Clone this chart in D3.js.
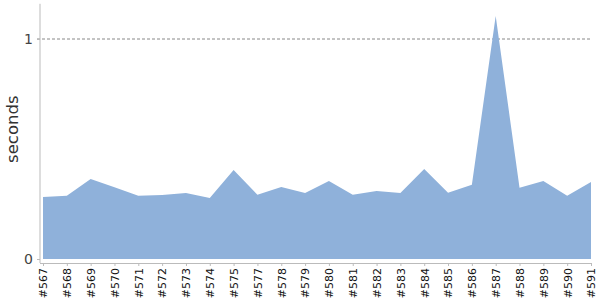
<!DOCTYPE html>
<html>
<head>
<meta charset="utf-8">
<script src="https://cdn.jsdelivr.net/npm/d3@7"></script>
<style>
  body { margin: 0; background: #fff; }
  .axis path, .axis line { stroke: #bbb; }
  .y-axis text { font-family: "DejaVu Sans", sans-serif; font-size: 14px; fill: #444; }
  .x-axis text { font-family: "DejaVu Sans", sans-serif; font-size: 11px; fill: #111; }
</style>
</head>
<body>
<div class="chart"></div>
<script>
// build numbers and durations (seconds)
const builds = ["#567", "#568", "#569", "#570", "#571", "#572", "#573", "#574", "#575",
    "#577", "#578", "#579", "#580", "#581", "#582", "#583", "#584", "#585", "#586",
    "#587", "#588", "#589", "#590", "#591"];
const seconds = [0.282, 0.288, 0.364, 0.326, 0.288, 0.291, 0.300, 0.277, 0.405,
    0.292, 0.327, 0.300, 0.355, 0.292, 0.309, 0.300, 0.409, 0.301, 0.338,
    1.105, 0.324, 0.355, 0.288, 0.350];
const yTicks = [0, 1];

const margin = ({ top: 39, right: 9, bottom: 41, left: 43 });
const width = 600 - margin.left - margin.right,
    height = 300 - margin.top - margin.bottom;

let svg = d3.select(".chart").append("svg")
    .attr("width", 600)
    .attr("height", 300)
    .append("g")
    .attr("transform", "translate(" + margin.left + "," + margin.top + ")");

let xScale = d3.scalePoint()
    .domain(builds)
    .range([0, width]);

let yScale = d3.scaleLinear()
    .domain([0, 1])
    .range([height, 0]);

const data = builds.map((b, i) => ({ build: b, value: seconds[i] }));

// dashed line at 1 second
svg.append("line")
    .attr("x1", -6)
    .attr("x2", width)
    .attr("y1", yScale(1))
    .attr("y2", yScale(1))
    .attr("stroke", "#888")
    .attr("stroke-dasharray", "3,2");

let area = d3.area()
    .x(d => xScale(d.build))
    .y0(yScale(0))
    .y1(d => yScale(d.value));

svg.append("path")
    .datum(data)
    .attr("class", "area")
    .attr("fill", "#8fb1da")
    .attr("d", area);

// y axis, shifted a bit left of the plot
let yAxis = d3.axisLeft(yScale)
    .tickValues(yTicks)
    .tickFormat(d3.format("d"))
    .tickSize(3)
    .tickPadding(4);

svg.append("g")
    .attr("class", "axis y-axis")
    .attr("transform", "translate(-3,0)")
    .call(yAxis)
    .call(g => g.select(".domain").attr("d", `M0,${yScale(0) + 4}V${yScale(1.16)}`));

// x axis, shifted a bit below the plot
let xAxis = d3.axisBottom(xScale)
    .tickSize(3)
    .tickSizeOuter(0);

svg.append("g")
    .attr("class", "axis x-axis")
    .attr("transform", `translate(0, ${height + 4})`)
    .call(xAxis)
    .call(g => g.select(".domain").attr("d", `M-3,0.5H${width}`))
    .selectAll("text")
    .attr("transform", "rotate(-90)")
    .attr("text-anchor", "end")
    .attr("x", -5)
    .attr("y", 0)
    .attr("dy", "0.35em");

svg.append("text")
    .attr("transform", `translate(${-margin.left + 18}, ${yScale(0.59)}) rotate(-90)`)
    .attr("text-anchor", "middle")
    .style("font-family", "DejaVu Sans, sans-serif")
    .style("font-size", "16.5px")
    .style("fill", "#333")
    .text("seconds");
</script>
</body>
</html>
